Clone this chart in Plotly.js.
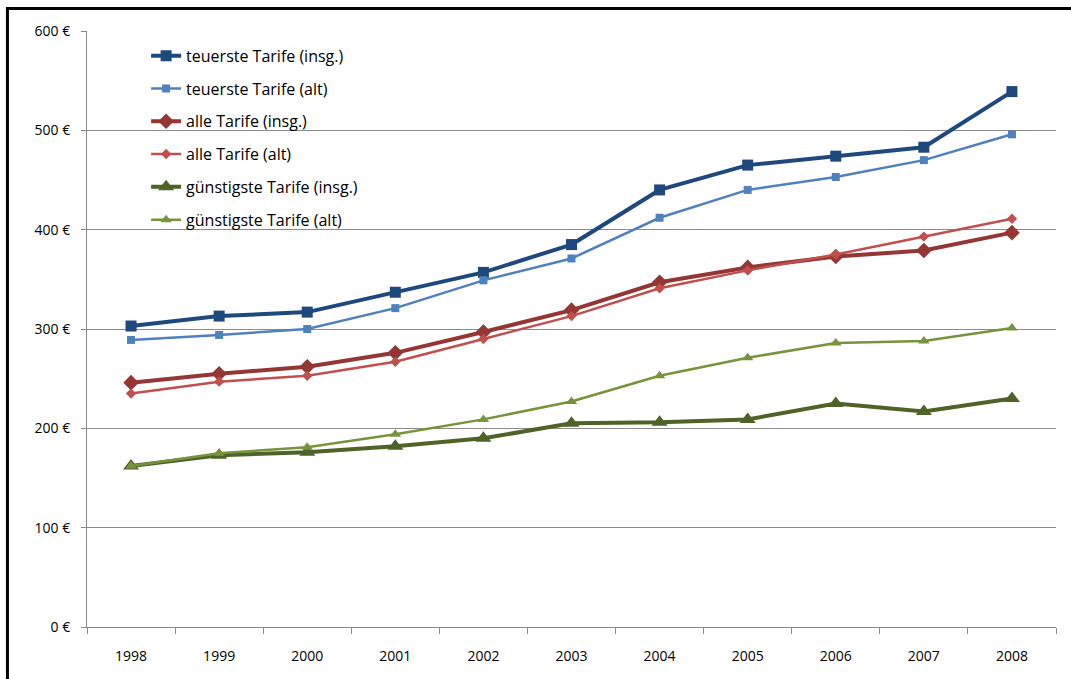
<!DOCTYPE html>
<html>
<head>
<meta charset="utf-8">
<script src="https://cdn.plot.ly/plotly-3.0.1.min.js"></script>
<style>
html,body{margin:0;padding:0;background:#fff;overflow:hidden;}
#chart{position:absolute;left:0;top:0;width:1071px;height:679px;}
</style>
</head>
<body>
<div id="chart"></div>
<script>
const years = ['1998','1999','2000','2001','2002','2003','2004','2005','2006','2007','2008'];
const teuersteInsg = [303, 313, 317, 337, 357, 385, 440, 465, 474, 483, 539];
const teuersteAlt  = [289, 294, 300, 321, 349, 371, 412, 440, 453, 470, 496];
const alleInsg     = [246, 255, 262, 276, 297, 319, 347, 362, 373, 379, 397];
const alleAlt      = [235, 247, 253, 267, 290, 313, 341, 359, 375, 393, 411];
const guenInsg     = [162, 173, 176, 182, 190, 205, 206, 209, 225, 217, 230];
const guenAlt      = [162, 175, 181, 194, 209, 227, 253, 271, 286, 288, 301];
const names = ['teuerste Tarife (insg.)','teuerste Tarife (alt)','alle Tarife (insg.)','alle Tarife (alt)','günstigste Tarife (insg.)','günstigste Tarife (alt)'];

function tr(y, name, color, w, sym, size, grp){
  return {x: years, y: y, name: name, type:'scatter', mode:'lines+markers',
    line:{color:color, width:w}, marker:{symbol:sym, size:size, color:color},
    legendgroup: grp};
}
const data = [
  tr(teuersteInsg, names[0], '#1F497D', 4, 'square', 11, 'a'),
  tr(teuersteAlt,  names[1], '#4F81BD', 2.5, 'square', 8, 'b'),
  tr(alleInsg,     names[2], '#943634', 4, 'diamond', 12, 'c'),
  tr(alleAlt,      names[3], '#C0504D', 2.5, 'diamond', 8, 'd'),
  tr(guenInsg,     names[4], '#4F6228', 4, 'triangle-up', 14, 'e'),
  tr(guenAlt,      names[5], '#77933C', 2.5, 'triangle-up', 10, 'f')
];
const layout = {
  width:1071, height:679,
  margin:{l:87, r:15, t:31, b:52},
  paper_bgcolor:'#fff', plot_bgcolor:'rgba(0,0,0,0)',
  font:{family:'"Open Sans", sans-serif', size:14, color:'#000'},
  showlegend:true,
  legend:{x:0.061, y:0.987, xanchor:'left', yanchor:'top', bgcolor:'rgba(0,0,0,0)',
    font:{size:16, color:'#000'}, traceorder:'grouped', tracegroupgap:9, itemwidth:30},
  xaxis:{type:'category', range:[-0.5,10.5], showgrid:false, showline:true, linecolor:'#888', linewidth:1,
    ticks:'outside', ticklen:6, tickcolor:'#888', tickson:'boundaries', ticklabelstandoff:16,
    zeroline:false, fixedrange:true},
  yaxis:{range:[0,600], dtick:100, tick0:0, ticksuffix:' €', showgrid:true, gridcolor:'#8c8c8c', gridwidth:1,
    showline:true, linecolor:'#888', linewidth:1, ticks:'outside', ticklen:5, tickcolor:'#888',
    ticklabelstandoff:8, zeroline:false, fixedrange:true},
  shapes:[
    {type:'rect', xref:'paper', yref:'y', x0:0.001, x1:0.352, y0:385, y1:596,
      fillcolor:'#fff', line:{width:0}, layer:'between'},
    {type:'line', xref:'paper', yref:'paper', x0:-0.0821, x1:-0.0821, y0:1.0378, y1:-0.2,
      line:{color:'#000', width:3}, layer:'above'},
    {type:'line', xref:'paper', yref:'paper', x0:-0.0836, x1:1.1, y0:1.0378, y1:1.0378,
      line:{color:'#000', width:3}, layer:'above'}
  ]
};
Plotly.newPlot('chart', data, layout, {displayModeBar:false, staticPlot:true});
</script>
</body>
</html>
